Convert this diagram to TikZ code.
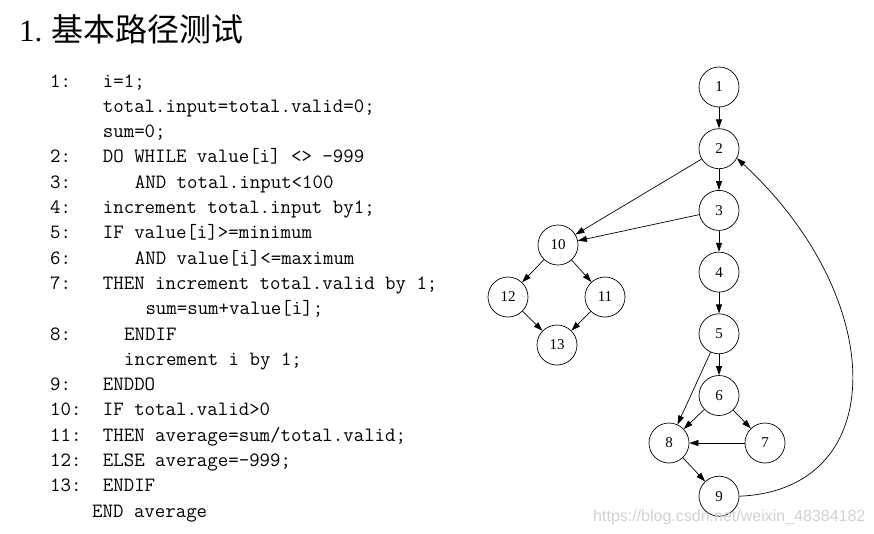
\documentclass[tikz,border=0pt]{standalone}
\usepackage{fontspec}
\setmainfont{Liberation Serif}
\setsansfont{Liberation Sans}
\newfontfamily\cjkfont{Noto Sans CJK SC}
\usetikzlibrary{arrows.meta,positioning}

\begin{document}
\begin{tikzpicture}[
x=1pt, y=-1pt,
node distance=21pt,
vtx/.style={draw, circle, minimum size=40pt, inner sep=0pt, line width=0.7pt, font=\fontsize{15}{15}\selectfont},
arr/.style={-{Triangle[length=9pt,width=6pt]}, line width=0.7pt},
code/.style={anchor=base west, inner sep=0pt, font=\ttfamily\fontsize{20.3}{22}\selectfont}
]
\useasboundingbox (0,0) rectangle (874,533);

% title
\node[anchor=base west, inner sep=0pt, font=\fontsize{31}{34}\selectfont] (title) at (19,41) {1.\hspace{9pt}{\cjkfont\fontsize{32}{34}\selectfont 基本路径测试}};

% program listing
\node[code] (l1) at (50,87) {1:};
\node[code] (c1) at (102.7,87) {i=1;};
\node[code] (c2) at (102.7,112.3) {total.input=total.valid=0;};
\node[code] (c3) at (102.7,137.6) {sum=0;};
\node[code] (l2) at (50,162.9) {2:};
\node[code] (c4) at (102.7,162.9) {DO WHILE value[i] <> -999};
\node[code] (l3) at (50,188.2) {3:};
\node[code] (c5) at (134.7,188.2) {AND total.input<100};
\node[code] (l4) at (50,213.5) {4:};
\node[code] (c6) at (102.7,213.5) {increment total.input by1;};
\node[code] (l5) at (50,238.8) {5:};
\node[code] (c7) at (102.7,238.8) {IF value[i]>=minimum};
\node[code] (l6) at (50,264.1) {6:};
\node[code] (c8) at (134.7,264.1) {AND value[i]<=maximum};
\node[code] (l7) at (50,289.4) {7:};
\node[code] (c9) at (102.7,289.4) {THEN increment total.valid by 1;};
\node[code] (c10) at (145.3,314.7) {sum=sum+value[i];};
\node[code] (l8) at (50,340) {8:};
\node[code] (c11) at (124,340) {ENDIF};
\node[code] (c12) at (124,365.3) {increment i by 1;};
\node[code] (l9) at (50,390.6) {9:};
\node[code] (c13) at (102.7,390.6) {ENDDO};
\node[code] (l10) at (50,415.9) {10:};
\node[code] (c14) at (102.7,415.9) {IF total.valid>0};
\node[code] (l11) at (50,441.2) {11:};
\node[code] (c15) at (102.7,441.2) {THEN average=sum/total.valid;};
\node[code] (l12) at (50,466.5) {12:};
\node[code] (c16) at (102.7,466.5) {ELSE average=-999;};
\node[code] (l13) at (50,491.8) {13:};
\node[code] (c17) at (102.7,491.8) {ENDIF};
\node[code] (c18) at (92,517.1) {END average};

% flow graph
\node[vtx] (n1) at (719,87) {1};
\node[vtx, below=of n1] (n2) {2};
\node[vtx, below=of n2] (n3) {3};
\node[vtx, below=of n3] (n4) {4};
\node[vtx, below=of n4] (n5) {5};
\node[vtx, below=of n5] (n6) {6};
\node[vtx, below=60pt of n6] (n9) {9};
\node[vtx] (n8) at (669,443) {8};
\node[vtx] (n7) at (765,443) {7};
\node[vtx] (n10) at (558,245) {10};
\node[vtx] (n12) at (508,297) {12};
\node[vtx] (n11) at (605,297) {11};
\node[vtx] (n13) at (557,345) {13};

\draw[arr] (n1) -- (n2);
\draw[arr] (n2) -- (n3);
\draw[arr] (n3) -- (n4);
\draw[arr] (n4) -- (n5);
\draw[arr] (n5) -- (n6);
\draw[arr] (n5) -- (n8);
\draw[arr] (n6) -- (n8);
\draw[arr] (n6) -- (n7);
\draw[arr] (n7) -- (n8);
\draw[arr] (n8) -- (n9);
\draw[arr] (n9.east) .. controls (890,490) and (890,300) .. (n2.-28);
\draw[arr] (n2) -- (n10);
\draw[arr] (n3) -- (n10);
\draw[arr] (n10) -- (n12);
\draw[arr] (n10) -- (n11);
\draw[arr] (n12) -- (n13);
\draw[arr] (n11) -- (n13);

% watermark
\node[anchor=base west, inner sep=0pt, text=black!18, font=\sffamily\fontsize{16}{16}\selectfont] (wm) at (593,521) {https://blog.csdn.net/weixin\_48384182};
\end{tikzpicture}
\end{document}
